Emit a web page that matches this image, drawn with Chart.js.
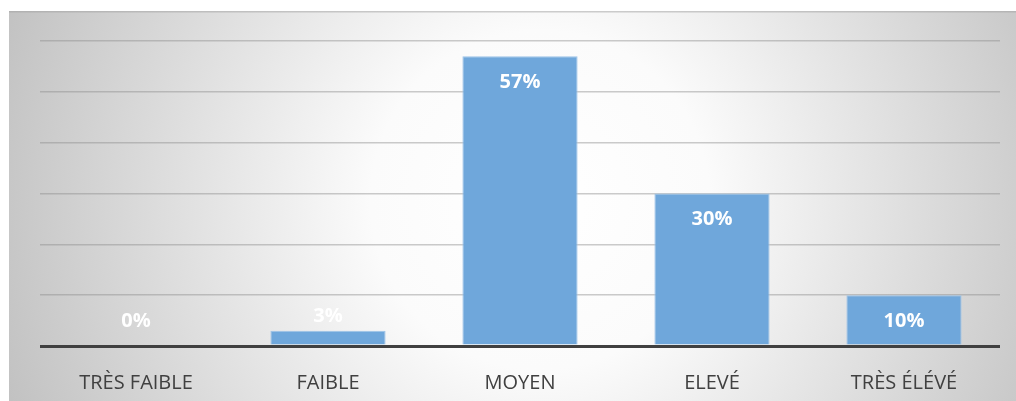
<!DOCTYPE html>
<html>
<head>
<meta charset="utf-8">
<script src="https://cdn.jsdelivr.net/npm/chart.js@4/dist/chart.umd.min.js"></script>
<style>
  html, body { margin: 0; padding: 0; background: #ffffff; }
  #wrap { width: 1016px; height: 401px; }
</style>
</head>
<body>
<div id="wrap"><canvas id="grafica"></canvas></div>
<script>
// niveaux et pourcentages
const niveaux = ['TRÈS FAIBLE', 'FAIBLE', 'MOYEN', 'ELEVÉ', 'TRÈS ÉLÉVÉ'];
const pourcentages = [0, 3, 57, 30, 10];
const axeMax = 60;
const axePas = 10;

// fond gris en dégradé radial
const fondPlugin = {
  id: 'fond',
  beforeDraw(chart) {
    const c = chart.ctx;
    const w = chart.width, h = chart.height;
    c.save();
    const g = c.createRadialGradient(540, 200, 0, 540, 200, 565);
    g.addColorStop(0, '#ffffff');
    g.addColorStop(0.3, '#fbfbfb');
    g.addColorStop(1, '#c2c2c2');
    c.fillStyle = g;
    c.fillRect(9, 11, w - 9, h - 11);
    c.fillStyle = 'rgba(160,160,160,0.5)';
    c.fillRect(9, 11, w - 9, 1.5);
    c.restore();
  }
};

// étiquettes blanches sur les barres
const etiquettes = {
  id: 'etiquettes',
  afterDatasetsDraw(chart) {
    const c = chart.ctx;
    const base = chart.scales.y.getPixelForValue(0);
    c.save();
    c.fillStyle = '#ffffff';
    c.font = 'bold 20px "Open Sans"';
    c.textAlign = 'center';
    c.textBaseline = 'middle';
    chart.getDatasetMeta(0).data.forEach((bar, i) => {
      let y;
      if (base - bar.y >= 40) y = bar.y + 26;
      else y = Math.min(bar.y - 14, base - 25);
      c.fillText(pourcentages[i] + '%', bar.x, y);
    });
    c.restore();
  }
};

const ctx = document.getElementById('grafica').getContext('2d');
let myChart = new Chart(ctx, {
  type: 'bar',
  data: {
    labels: niveaux,
    datasets: [{
      data: pourcentages,
      backgroundColor: '#6fa7db',
      borderColor: '#9dc3e8',
      borderWidth: 1,
      barPercentage: 0.6,
      categoryPercentage: 1
    }]
  },
  options: {
    responsive: true,
    maintainAspectRatio: false,
    animation: false,
    layout: { padding: { left: 40, right: 16, top: 41, bottom: 0 } },
    plugins: { legend: { display: false }, tooltip: { enabled: false } },
    scales: {
      x: {
        grid: { display: false },
        border: { display: false },
        ticks: { color: '#404040', font: { family: 'Open Sans', size: 20 }, padding: 17 },
        afterFit(s) { s.height = 55; }
      },
      y: {
        min: 0,
        max: axeMax,
        ticks: { display: false, stepSize: axePas },
        border: { display: false },
        grid: {
          drawTicks: false,
          color: c => c.tick.value === 0 ? '#404040' : 'rgba(140,140,140,0.45)',
          lineWidth: c => c.tick.value === 0 ? 3 : 1.5
        },
        afterFit(s) { s.width = 0; }
      }
    }
  },
  plugins: [fondPlugin, etiquettes]
});
</script>
</body>
</html>
